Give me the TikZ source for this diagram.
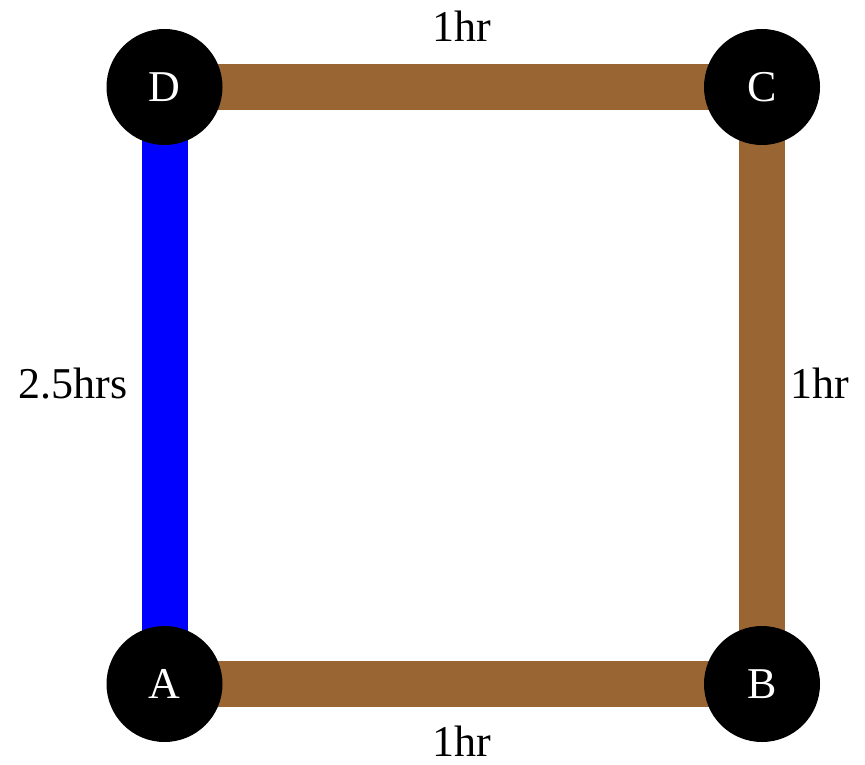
\documentclass[tikz,border=0pt]{standalone}
\usepackage{fontspec}
\setmainfont{Liberation Serif}
\definecolor{edgebrown}{RGB}{153,102,51}
\begin{document}
\begin{tikzpicture}[x=1pt,y=-1pt,
  vertex/.style={circle,fill=black,minimum size=116pt,inner sep=0pt,text=white,font=\fontsize{44}{44}\selectfont},
  road/.style={line width=46pt,edgebrown},
  fast/.style={line width=46pt,blue},
  lbl/.style={font=\fontsize{44}{44}\selectfont,inner sep=0pt}]
\useasboundingbox (0,0) rectangle (865,765);
\fill[white] (0,0) rectangle (865,765);
\coordinate (pD) at (164.5,87);
\coordinate (pC) at (762,87);
\coordinate (pA) at (164.5,684);
\coordinate (pB) at (762,684);
\draw[road] (pD) -- (pC);
\draw[road] (pC) -- (pB);
\draw[road] (pA) -- (pB);
\draw[fast] (pD) -- (pA);
\node[vertex] (D) at (pD) {D};
\node[vertex] (C) at (pC) {C};
\node[vertex] (A) at (pA) {A};
\node[vertex] (B) at (pB) {B};
\node[lbl,anchor=base] (t1) at (462,42) {1hr};
\node[lbl,anchor=base] (t2) at (820,398) {1hr};
\node[lbl,anchor=base] (t3) at (73,398) {2.5hrs};
\node[lbl,anchor=base] (t4) at (462,756) {1hr};
\end{tikzpicture}
\end{document}
